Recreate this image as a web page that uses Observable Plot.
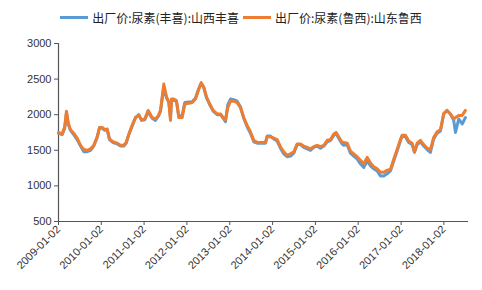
<!DOCTYPE html>
<html>
<head>
<meta charset="utf-8">
<script src="https://cdn.jsdelivr.net/npm/d3@7"></script>
<script src="https://cdn.jsdelivr.net/npm/@observablehq/plot@0.6"></script>
<style>
  html, body { margin: 0; padding: 0; background: #fff; }
  #wrap { width: 482px; height: 290px; overflow: hidden; }
  #legend { height: 32px; display: flex; justify-content: center; align-items: center;
    font-family: "Noto Sans CJK SC", sans-serif; font-size: 12px; color: #222; padding-top: 3px; box-sizing: border-box; }
  .item { display: flex; align-items: center; margin: 0 2px; }
  .sw { width: 28px; height: 3px; margin-right: 4px; }
</style>
</head>
<body>
<div id="wrap">
  <div id="legend"></div>
  <div id="chart"></div>
</div>
<script>
const seriesNames = ["出厂价:尿素(丰喜):山西丰喜", "出厂价:尿素(鲁西):山东鲁西"];
const seriesColors = ["#5b9bd5", "#ed7d31"];
const yTicks = [500, 1000, 1500, 2000, 2500, 3000];
const xTickLabels = ["2009-01-02","2010-01-02","2011-01-02","2012-01-02","2013-01-02","2014-01-02","2015-01-02","2016-01-02","2017-01-02","2018-01-02"];
const dates = ["2009-01-02","2009-02-02","2009-02-24","2009-03-11","2009-03-26","2009-04-14","2009-05-12","2009-06-10","2009-07-09","2009-08-06","2009-09-04","2009-10-02","2009-10-30","2009-11-28","2009-12-18",
"2010-01-10","2010-02-01","2010-02-21","2010-03-13","2010-04-10","2010-05-18","2010-06-15","2010-07-13","2010-08-02","2010-08-25","2010-09-22","2010-10-21","2010-11-18","2010-12-11",
"2011-01-08","2011-02-06","2011-03-12","2011-04-09","2011-05-05","2011-05-22","2011-06-19","2011-07-12","2011-08-01","2011-08-15","2011-08-24","2011-09-12","2011-10-05","2011-10-25","2011-11-23","2011-12-15",
"2012-01-18","2012-02-16","2012-03-15","2012-04-13","2012-05-03","2012-05-25","2012-06-17","2012-07-15","2012-08-13","2012-09-16","2012-10-15","2012-11-07","2012-11-26","2012-12-16",
"2013-01-08","2013-02-05","2013-03-06","2013-04-03","2013-05-01","2013-05-30","2013-06-27","2013-07-26","2013-08-24","2013-10-05","2013-11-02","2013-11-17","2013-12-15",
"2014-01-12","2014-02-10","2014-03-10","2014-04-07","2014-05-06","2014-06-04","2014-07-02","2014-07-31","2014-08-28","2014-09-25","2014-10-24","2014-11-21","2014-12-19",
"2015-01-17","2015-02-14","2015-03-15","2015-04-13","2015-05-11","2015-06-08","2015-06-28","2015-07-20","2015-08-18","2015-09-01","2015-09-30","2015-10-28","2015-11-25","2015-12-24",
"2016-01-21","2016-02-19","2016-03-19","2016-04-16","2016-05-14","2016-06-12","2016-07-10","2016-08-07","2016-09-05","2016-10-03","2016-10-31","2016-11-29","2016-12-27",
"2017-01-11","2017-02-08","2017-03-08","2017-04-06","2017-04-26","2017-05-19","2017-06-16","2017-07-14","2017-08-12","2017-09-09","2017-10-07","2017-11-05","2017-12-04",
"2018-01-01","2018-01-29","2018-02-27","2018-03-27","2018-04-11","2018-05-09","2018-06-07","2018-07-05"];
const fengxi = [1740,1720,1810,2030,1870,1780,1720,1650,1560,1480,1480,1500,1560,1680,1820,
1810,1780,1790,1650,1610,1590,1560,1560,1600,1720,1840,1960,2000,1920,
1930,2040,1950,1920,1980,2050,2380,2240,2170,1960,2210,2200,2190,1980,1990,2170,
2180,2180,2230,2370,2440,2380,2240,2140,2050,2000,2000,1950,1900,2140,
2220,2210,2190,2110,1950,1830,1740,1620,1600,1600,1600,1700,1700,
1660,1630,1530,1450,1410,1420,1460,1580,1580,1540,1520,1500,1540,
1560,1530,1560,1620,1640,1710,1740,1670,1590,1570,1580,1460,1420,1380,
1310,1260,1350,1280,1240,1210,1140,1140,1170,1210,1350,1490,1630,
1700,1690,1610,1580,1470,1580,1620,1560,1510,1470,1660,1740,1770,
2010,2060,2010,1920,1750,1940,1870,1960];
const luxi = [1750,1730,1830,2050,1880,1790,1740,1670,1570,1510,1500,1520,1570,1690,1820,
1820,1790,1800,1660,1620,1600,1570,1570,1610,1730,1850,1960,1990,1930,
1940,2060,1960,1940,1990,2060,2430,2250,2180,1920,2220,2220,2200,1960,1960,2150,
2160,2170,2220,2360,2450,2390,2250,2150,2060,2010,2010,1960,1930,2100,
2190,2190,2170,2100,1960,1850,1760,1640,1610,1610,1610,1690,1690,
1670,1650,1550,1480,1430,1450,1480,1590,1590,1560,1540,1520,1550,
1570,1550,1570,1640,1650,1730,1750,1690,1610,1610,1600,1490,1450,1410,
1360,1310,1400,1320,1270,1240,1190,1190,1220,1230,1370,1510,1650,
1710,1710,1630,1600,1480,1600,1640,1580,1530,1510,1680,1760,1790,
2020,2060,2010,1940,1960,1990,1990,2060];

const parse = d3.utcParse("%Y-%m-%d");
const rows = [];
[fengxi, luxi].forEach((vals, s) => {
  vals.forEach((v, i) => rows.push({date: parse(dates[i]), value: v, series: seriesNames[s]}));
});

const legend = document.getElementById("legend");
seriesNames.forEach((n, i) => {
  const it = document.createElement("div");
  it.className = "item";
  it.innerHTML = `<span class="sw" style="background:${seriesColors[i]}"></span><span>${n}</span>`;
  legend.appendChild(it);
});

const x0 = parse("2009-01-02"), x1 = parse("2018-07-31");
const chart = Plot.plot({
  width: 482,
  height: 258,
  marginTop: 11,
  marginBottom: 69,
  marginLeft: 58,
  marginRight: 14,
  style: {fontFamily: "'Liberation Sans', Arial, sans-serif", fontSize: "11px", color: "#333", background: "#fff"},
  x: {type: "utc", domain: [x0, x1]},
  y: {domain: [500, 3000]},
  color: {domain: seriesNames, range: seriesColors},
  marks: [
    Plot.axisY({ticks: yTicks, tickFormat: d3.format("d"), tickSize: 4, tickPadding: 3, label: null, stroke: "#555"}),
    Plot.axisX({ticks: xTickLabels.map(parse), tickFormat: d3.utcFormat("%Y-%m-%d"), tickRotate: -45, tickSize: 4, tickPadding: 2, label: null, stroke: "#555"}),
    Plot.ruleY([500], {stroke: "#555", strokeWidth: 1.2}),
    Plot.ruleX([x0], {stroke: "#555", strokeWidth: 1.2}),
    Plot.line(rows, {x: "date", y: "value", stroke: "series", z: "series", strokeWidth: 3, curve: "linear"})
  ]
});
document.getElementById("chart").appendChild(chart);
</script>
</body>
</html>
